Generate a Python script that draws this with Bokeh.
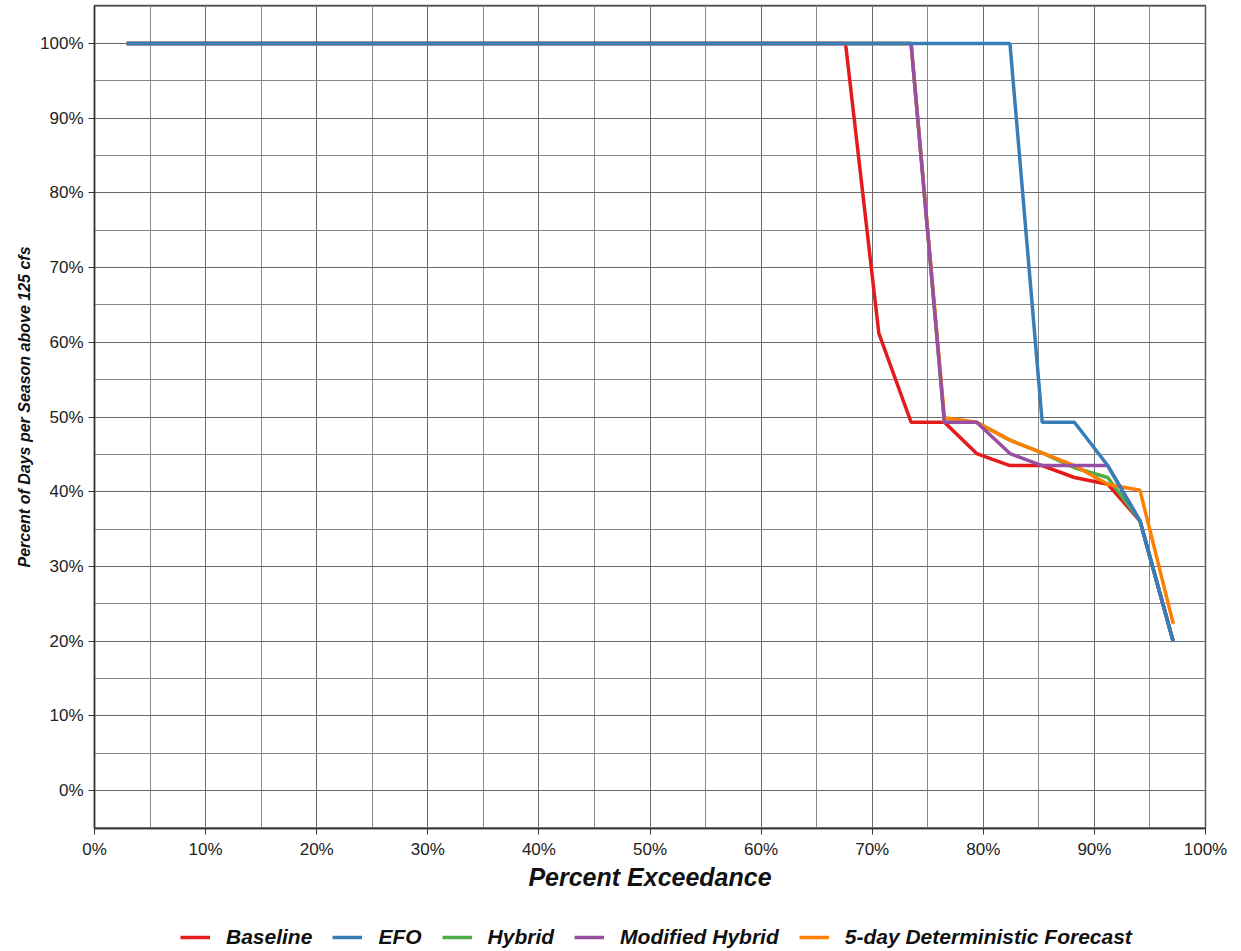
from bokeh.plotting import figure
from bokeh.layouts import column
from bokeh.models import FixedTicker, PrintfTickFormatter, Legend, LegendItem, Title, Range1d
from bokeh.embed import file_html
from bokeh.resources import INLINE

# Percent exceedance (x) and percent of days per season above 125 cfs (y)
baseline_x = [2.9, 67.6, 70.6, 73.5, 76.5, 79.4, 82.4, 85.3, 88.2, 91.2, 94.1, 97.1]
baseline_y = [100, 100, 61.2, 49.3, 49.3, 45.1, 43.5, 43.5, 41.9, 41.0, 36.1, 19.9]

efo_x = [2.9, 82.4, 85.3, 88.2, 91.2, 94.1, 97.1]
efo_y = [100, 100, 49.3, 49.3, 43.5, 36.1, 19.9]

hybrid_x = [2.9, 73.5, 76.5, 79.4, 82.4, 85.3, 88.2, 91.2, 94.1, 97.1]
hybrid_y = [100, 100, 49.3, 49.3, 46.9, 45.2, 43.2, 41.9, 36.1, 19.9]

modhyb_x = [2.9, 73.5, 76.5, 79.4, 82.4, 85.3, 88.2, 91.2, 94.1, 97.1]
modhyb_y = [100, 100, 49.3, 49.3, 45.1, 43.5, 43.5, 43.5, 36.1, 19.9]

fiveday_x = [2.9, 73.5, 76.5, 79.4, 82.4, 85.3, 88.2, 91.2, 94.1, 97.1]
fiveday_y = [100, 100, 49.9, 49.3, 46.9, 45.2, 43.5, 41.0, 40.2, 22.3]

series = [
    ("Baseline", baseline_x, baseline_y, "#e41a1c"),
    ("Hybrid", hybrid_x, hybrid_y, "#4daf4a"),
    ("5-day Deterministic Forecast", fiveday_x, fiveday_y, "#ff7f00"),
    ("Modified Hybrid", modhyb_x, modhyb_y, "#984ea3"),
    ("EFO", efo_x, efo_y, "#377eb8"),
]
legend_order = ["Baseline", "EFO", "Hybrid", "Modified Hybrid", "5-day Deterministic Forecast"]

x_ticks = list(range(0, 101, 10))
y_ticks = list(range(0, 101, 10))

FONT = "Liberation Sans"
W = 3.5

p = figure(width=1235, height=897, x_range=Range1d(0, 100), y_range=Range1d(-5.1, 105.1),
           output_backend="svg", toolbar_location=None, title=None,
           min_border_left=94, min_border_right=30, min_border_top=5, min_border_bottom=69)

p.outline_line_color = "#555555"
p.outline_line_width = 1.5
p.background_fill_color = "white"

p.xaxis.ticker = FixedTicker(ticks=x_ticks, minor_ticks=list(range(5, 100, 10)))
p.yaxis.ticker = FixedTicker(ticks=y_ticks, minor_ticks=list(range(-5, 106, 10)))
for ax in (p.xaxis, p.yaxis):
    ax.formatter = PrintfTickFormatter(format="%d%%")
    ax.major_label_text_font = FONT
    ax.major_label_text_font_size = "17px"
    ax.major_label_text_color = "#222222"
    ax.major_tick_out = 6
    ax.major_tick_in = 0
    ax.minor_tick_out = 0
    ax.minor_tick_in = 0
    ax.major_label_standoff = 5
    ax.axis_line_color = "#333333"
    ax.axis_line_width = 1.5
    ax.major_tick_line_color = "#333333"

p.xaxis.axis_label = "Percent Exceedance"
p.xaxis.axis_label_text_font = FONT
p.xaxis.axis_label_text_font_style = "bold italic"
p.xaxis.axis_label_text_font_size = "25px"
p.xaxis.axis_label_text_color = "#111111"
p.xaxis.axis_label_standoff = 1

for g in (p.xgrid, p.ygrid):
    g.grid_line_color = "#6a6a6a"
    g.grid_line_width = 1
    g.minor_grid_line_color = "#888888"
    g.minor_grid_line_width = 1

ylab = Title(text="Percent of Days per Season above 125 cfs", align="left", offset=261,
             text_font=FONT, text_font_style="bold italic", text_font_size="16px",
             text_color="#111111")
p.add_layout(ylab, "left")

for name, xs, ys, col in series:
    p.line(xs, ys, line_color=col, line_width=W)

# legend strip below the chart: same series drawn outside its visible range
q = figure(width=1235, height=53, x_range=Range1d(200, 300), y_range=Range1d(0, 1),
           output_backend="svg", toolbar_location=None, title=None,
           x_axis_type=None, y_axis_type=None,
           min_border_left=0, min_border_right=0, min_border_top=0, min_border_bottom=0)
q.outline_line_color = None
rends = {}
for name, xs, ys, col in series:
    rends[name] = q.line(xs, ys, line_color=col, line_width=W)

legend = Legend(items=[LegendItem(label=n, renderers=[rends[n]]) for n in legend_order],
                orientation="horizontal", location=(86, 1), glyph_width=30, glyph_height=20,
                label_standoff=16, spacing=20, padding=0, margin=0, border_line_color=None,
                background_fill_alpha=0, label_text_font=FONT,
                label_text_font_style="bold italic", label_text_font_size="21px",
                label_height=20, label_text_color="#111111")
q.add_layout(legend, "center")

layout = column(p, q, spacing=0)
open("out.html", "w").write(file_html(layout, INLINE))
